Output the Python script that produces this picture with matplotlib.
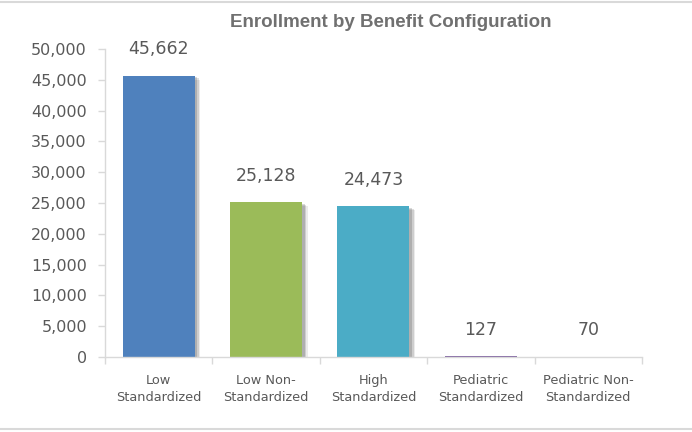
import matplotlib.pyplot as plt
import matplotlib.patheffects as pe
from matplotlib.lines import Line2D
from matplotlib.ticker import FuncFormatter

categories = ["Low\nStandardized", "Low Non-\nStandardized", "High\nStandardized",
              "Pediatric\nStandardized", "Pediatric Non-\nStandardized"]
enrollment = [45662, 25128, 24473, 127, 70]
bar_colors = ["#4F81BD", "#9BBB59", "#4BACC6", "#8064A2", "#F79646"]

grey = "#595959"
axis_grey = "#D9D9D9"

fig = plt.figure(figsize=(6.92, 4.32), dpi=100)
ax = fig.add_axes([0.1517, 0.1736, 0.776, 0.713])

x_pos = list(range(len(categories)))
bars = ax.bar(x_pos, enrollment, width=0.67, color=bar_colors, zorder=2)
for b in bars:
    b.set_path_effects([
        pe.SimplePatchShadow(offset=(4, -3), shadow_rgbFace="#000000", alpha=0.08),
        pe.SimplePatchShadow(offset=(3, -2), shadow_rgbFace="#000000", alpha=0.12),
        pe.SimplePatchShadow(offset=(2, -1), shadow_rgbFace="#000000", alpha=0.15),
        pe.Normal()])

ax.set_xlim(-0.5, len(categories) - 0.5)
ax.set_ylim(0, 50000)
ax.set_yticks(range(0, 50001, 5000))
ax.yaxis.set_major_formatter(FuncFormatter(lambda v, p: f"{int(v):,}"))
ax.tick_params(axis="y", labelsize=11.5, colors=axis_grey, labelcolor=grey, length=5, width=1, pad=8)

ax.set_xticks(x_pos)
ax.set_xticklabels(categories, fontsize=9.3, color=grey, linespacing=1.45)
ax.set_xticks([i - 0.5 for i in range(len(categories) + 1)], minor=True)
ax.tick_params(axis="x", which="major", length=0, pad=12)
ax.tick_params(axis="x", which="minor", length=5, width=1, colors=axis_grey)

for side in ["top", "right"]:
    ax.spines[side].set_visible(False)
for side in ["left", "bottom"]:
    ax.spines[side].set_color(axis_grey)
    ax.spines[side].set_linewidth(1)

for i, v in enumerate(enrollment):
    ax.annotate(f"{v:,}", (i, v), xytext=(0, 19), textcoords="offset points",
                ha="center", va="center", fontsize=12.5, color=grey)

fig.text(0.564, 0.947, "Enrollment by Benefit Configuration", ha="center", va="center",
         fontsize=13.5, color="#707070", fontweight="bold", family="Liberation Sans")

# thin grey rules along the top and bottom edges
for yy in (0.995, 0.007):
    fig.add_artist(Line2D([0, 1], [yy, yy], transform=fig.transFigure,
                          color="#D9D9D9", linewidth=1.5))

fig.savefig("out.png", dpi=100)
